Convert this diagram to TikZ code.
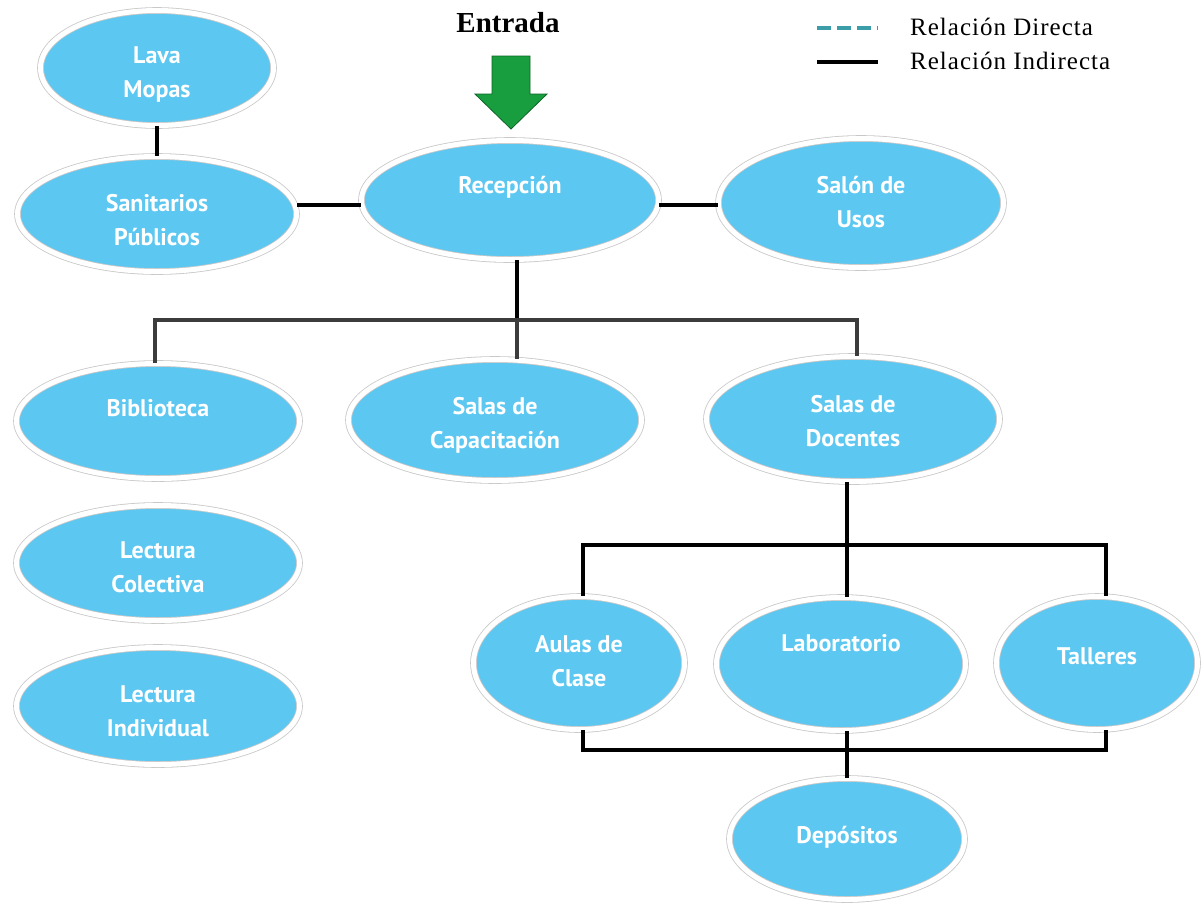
\documentclass[tikz,border=0pt]{standalone}
\usepackage{fontspec}
\setmainfont{Liberation Serif}
\newfontfamily\lblfont{PT Sans}
\newfontfamily\legfont[LetterSpace=4]{Liberation Serif}
\usetikzlibrary{shadows,shapes.geometric}
\definecolor{bubble}{RGB}{92,199,241}
\definecolor{rim}{RGB}{200,200,200}
\definecolor{arrowgreen}{RGB}{24,158,62}
\definecolor{arrowdark}{RGB}{14,100,40}
\definecolor{legteal}{RGB}{58,157,168}
\definecolor{busgray}{RGB}{60,60,60}
\tikzset{
  bub/.style={ellipse, fill=bubble, draw=rim, line width=0.8pt, double=white, double distance=5pt, inner sep=0pt,
    drop shadow={shadow xshift=1.5pt, shadow yshift=-2pt, opacity=0.25}},
  lbl/.style={text=white, font=\lblfont\bfseries\fontsize{24}{34}\selectfont, align=center, inner sep=0pt},
  conn/.style={line width=4.5pt, black},
  bus/.style={line width=4pt, busgray},
  legtxt/.style={font=\legfont\fontsize{25}{28}\selectfont, anchor=west, inner sep=0pt},
}
\begin{document}
\begin{tikzpicture}[x=1pt,y=-1pt]
\useasboundingbox (0,0) rectangle (1201,903);
\fill[white] (0,0) rectangle (1201,903);
% ellipses
\node[bub, minimum width=233pt, minimum height=115pt] (lava) at (157,68) {};
\node[bub, minimum width=279pt, minimum height=115pt] (sani) at (157,214) {};
\node[bub, minimum width=297pt, minimum height=119pt] (rece) at (510,200) {};
\node[bub, minimum width=285pt, minimum height=129pt] (salon) at (861,203) {};
\node[bub, minimum width=283pt, minimum height=115pt] (bibl) at (158,421) {};
\node[bub, minimum width=293pt, minimum height=121pt] (capa) at (495,420) {};
\node[bub, minimum width=293pt, minimum height=125pt] (doce) at (853,419) {};
\node[bub, minimum width=283pt, minimum height=115pt] (colec) at (158,563) {};
\node[bub, minimum width=283pt, minimum height=117pt] (indiv) at (158,706) {};
\node[bub, minimum width=211pt, minimum height=133pt] (aulas) at (579,663) {};
\node[bub, minimum width=249pt, minimum height=133pt] (labo) at (841,664) {};
\node[bub, minimum width=201pt, minimum height=133pt] (tall) at (1097,663) {};
\node[bub, minimum width=235pt, minimum height=121pt] (depo) at (847,839) {};
% labels
\node[lbl] (lavaT) at (157,74) {Lava\\Mopas};
\node[lbl] (saniT) at (157,220) {Sanitarios\\Públicos};
\node[lbl] (receT) at (510,187) {Recepción};
\node[lbl] (salonT) at (861,202) {Salón de\\Usos};
\node[lbl] (biblT) at (158,408) {Biblioteca};
\node[lbl] (capaT) at (495,425) {Salas de\\Capacitación};
\node[lbl] (doceT) at (853,421) {Salas de\\Docentes};
\node[lbl] (colecT) at (158,567) {Lectura\\Colectiva};
\node[lbl] (indivT) at (158,711) {Lectura\\Individual};
\node[lbl] (aulasT) at (579,661) {Aulas de\\Clase};
\node[lbl] (laboT) at (841,643) {Laboratorio};
\node[lbl] (tallT) at (1097,656) {Talleres};
\node[lbl] (depoT) at (847,837) {Depósitos};
% entrance
\node[font=\bfseries\fontsize{29}{32}\selectfont, inner sep=0pt] (entr) at (508,23) {Entrada};
\filldraw[fill=arrowgreen, draw=arrowdark, line width=0.8pt] (492,56) -- (530,56) -- (530,94) -- (547,94) -- (511,129) -- (475,94) -- (492,94) -- cycle;
% legend
\coordinate (ld1) at (817,28); \coordinate (ld2) at (878,28);
\coordinate (li1) at (817,62); \coordinate (li2) at (878,62);
\draw[legteal, line width=4pt, dash pattern=on 14pt off 6pt] (ld1) -- (ld2);
\draw[black, line width=4.5pt] (li1) -- (li2);
\node[legtxt] (ldT) at (910,27) {Relación Directa};
\node[legtxt] (liT) at (910,61) {Relación Indirecta};
% connectors top
\draw[conn] (lava.south) -- (sani.north);
\draw[conn] (sani.east |- 0,205) -- (rece.west |- 0,205);
\draw[conn] (rece.east |- 0,205) -- (salon.west |- 0,205);
% upper tree
\coordinate (r0) at (517,320);
\coordinate (b0) at (155,320);
\coordinate (d0) at (857,320);
\coordinate (rbot) at (517,260);
\draw[conn] (rbot) -- (r0);
\draw[bus] (bibl.north -| b0) -- (b0) -- (d0) -- (doce.north -| d0);
\draw[bus] (r0) -- (capa.north -| r0);
% middle tree
\coordinate (m0) at (847,545);
\coordinate (ma) at (583,545);
\coordinate (mt) at (1106,545);
\draw[conn] (doce.south -| m0) -- (m0);
\draw[conn] (aulas.north -| ma) -- (ma) -- (mt) -- (tall.north -| mt);
\draw[conn] (m0) -- (labo.north -| m0);
% lower tree
\coordinate (l0) at (847,750);
\coordinate (la) at (583,750);
\coordinate (lt) at (1106,750);
\draw[conn] (aulas.south -| la) -- (la) -- (lt) -- (tall.south -| lt);
\draw[conn] (labo.south -| l0) -- (l0) -- (depo.north);
\end{tikzpicture}
\end{document}
